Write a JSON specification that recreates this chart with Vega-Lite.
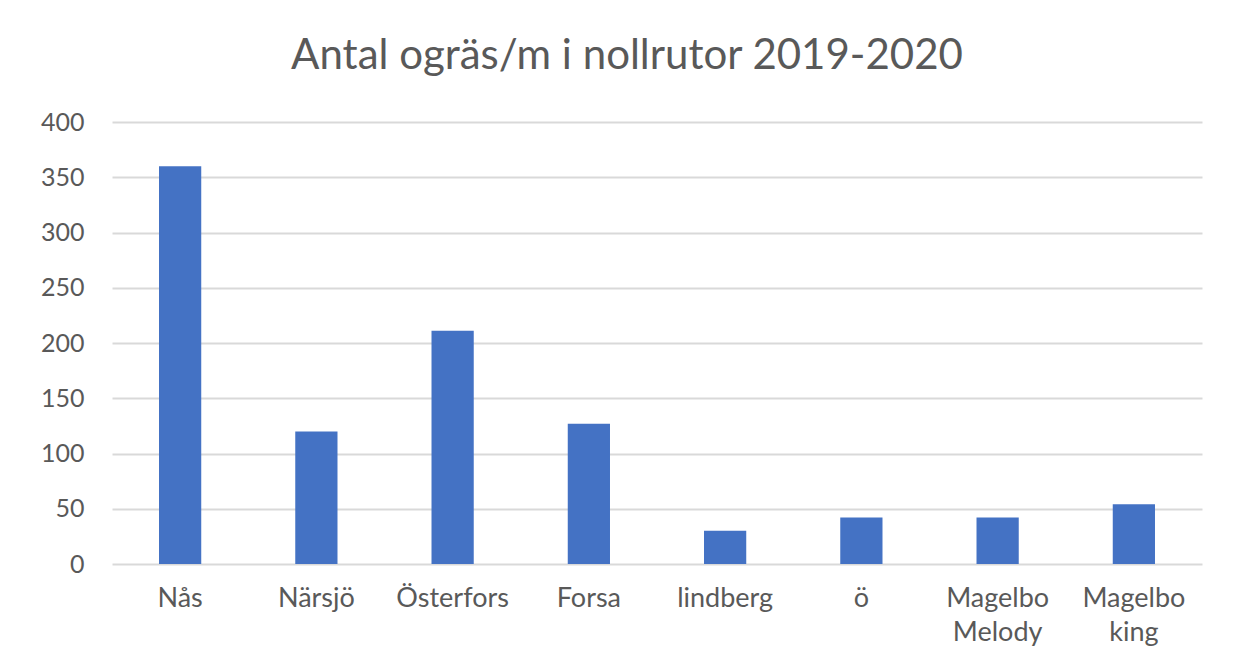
{
  "$schema": "https://vega.github.io/schema/vega-lite/v6.json",
  "autosize": "none",
  "width": 1090,
  "height": 442,
  "padding": {"left": 112, "top": 122, "right": 36, "bottom": 103},
  "background": "white",
  "title": {
    "text": "Antal ogräs/m i nollrutor 2019-2020",
    "anchor": "middle",
    "frame": "group",
    "dx": -30,
    "offset": 32,
    "font": "Lato",
    "fontSize": 42,
    "fontWeight": "normal",
    "color": "#595959"
  },
  "data": {
    "values": [
      {"plats": "Nås", "antal": 360},
      {"plats": "Närsjö", "antal": 120},
      {"plats": "Österfors", "antal": 211},
      {"plats": "Forsa", "antal": 127},
      {"plats": "lindberg", "antal": 30},
      {"plats": "ö", "antal": 42},
      {"plats": "Magelbo Melody", "antal": 42},
      {"plats": "Magelbo king", "antal": 54}
    ]
  },
  "mark": {"type": "bar", "color": "#4472C4"},
  "encoding": {
    "x": {
      "field": "plats",
      "type": "nominal",
      "sort": null,
      "scale": {"paddingInner": 0.69, "paddingOuter": 0.345},
      "axis": {
        "title": null,
        "labelAngle": 0,
        "labelExpr": "split(datum.label, ' ')",
        "labelFont": "Lato",
        "labelFontSize": 27,
        "labelColor": "#595959",
        "labelPadding": 21,
        "labelLineHeight": 34,
        "ticks": false,
        "domain": false,
        "grid": false
      }
    },
    "y": {
      "field": "antal",
      "type": "quantitative",
      "scale": {"domain": [0, 400], "nice": false},
      "axis": {
        "title": null,
        "values": [0, 50, 100, 150, 200, 250, 300, 350, 400],
        "labelFont": "Lato",
        "labelFontSize": 25,
        "labelColor": "#595959",
        "labelPadding": 28,
        "ticks": false,
        "domain": false,
        "grid": true,
        "gridColor": "#d9d9d9",
        "gridWidth": 2
      }
    }
  },
  "config": {"view": {"stroke": null}}
}
